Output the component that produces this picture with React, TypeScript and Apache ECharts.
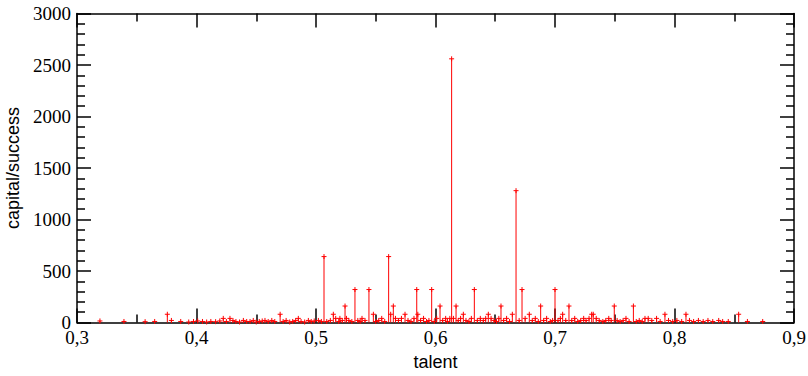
import React, { useEffect, useRef } from "react";
import * as echarts from "echarts";

// talent values (x) and capital/success values (y)
const talent: number[] = [
  0.3192, 0.3393, 0.357, 0.365, 0.3756, 0.379, 0.3868, 0.3935, 0.3975, 0.401, 0.405, 0.4085, 0.412, 0.416, 0.4195,
  0.4224, 0.425, 0.428, 0.4305, 0.433, 0.436, 0.4392, 0.442, 0.4448, 0.4475, 0.45, 0.4525, 0.455, 0.4573, 0.46,
  0.463, 0.4655, 0.47, 0.4725, 0.475, 0.478, 0.4805, 0.483, 0.4852, 0.4875, 0.4905, 0.4936, 0.496, 0.4985, 0.502, 0.5045,
  0.5067, 0.509, 0.512, 0.5145, 0.5165, 0.519, 0.52, 0.522, 0.5243, 0.5255, 0.5275, 0.53, 0.5326, 0.535, 0.537,
  0.5385, 0.541, 0.5443, 0.548, 0.55, 0.5525, 0.555, 0.5575, 0.5608, 0.5625, 0.5647, 0.5665, 0.569, 0.5715, 0.5745,
  0.577, 0.5795, 0.582, 0.5843, 0.5852, 0.5875, 0.59, 0.5925, 0.5945, 0.5968, 0.599,
  0.601, 0.6038, 0.606, 0.6085, 0.61, 0.612, 0.6135, 0.615, 0.6172, 0.619, 0.621, 0.6233, 0.6255, 0.628, 0.63,
  0.6325, 0.635, 0.6375, 0.64, 0.642, 0.6442, 0.6465, 0.649, 0.651, 0.653, 0.6548, 0.657, 0.6595, 0.662, 0.6643,
  0.6674, 0.67, 0.6724, 0.675, 0.6785, 0.681, 0.6835, 0.686, 0.688, 0.6905, 0.693, 0.696, 0.698, 0.7,
  0.7025, 0.7045, 0.7064, 0.709, 0.7117, 0.714, 0.7165, 0.719, 0.7215, 0.724, 0.726, 0.7285, 0.7307, 0.732, 0.7345,
  0.737, 0.74, 0.7425, 0.745, 0.747, 0.7496, 0.752, 0.7545, 0.757, 0.7594, 0.762, 0.7656, 0.768, 0.7705, 0.773,
  0.7753, 0.778, 0.781, 0.785, 0.788, 0.792, 0.795, 0.7985,
  0.802, 0.806, 0.8096, 0.8125, 0.816, 0.82, 0.824, 0.828, 0.832, 0.837, 0.8403, 0.845, 0.8537, 0.861, 0.8738,
];

const capital: number[] = [
  15, 10, 8, 10, 80, 20, 10, 5, 10, 15, 10, 5, 10, 8, 15,
  40, 10, 40, 20, 10, 5, 20, 10, 10, 20, 5, 10, 15, 20, 10,
  20, 10, 80, 10, 20, 5, 10, 20, 40, 10, 5, 20, 10, 15, 20, 10,
  640, 10, 20, 80, 40, 10, 40, 20, 160, 40, 20, 10, 320, 20, 10,
  40, 20, 320, 80, 10, 20, 40, 10, 640, 80, 160, 40, 20, 40, 80,
  20, 10, 40, 320, 80, 20, 40, 10, 20, 320, 10,
  40, 160, 20, 40, 10, 40, 2560, 40, 160, 20, 40, 80, 20, 10, 40,
  320, 20, 40, 20, 40, 80, 40, 20, 10, 40, 160, 20, 40, 10, 80,
  1280, 20, 320, 40, 80, 20, 40, 10, 160, 20, 40, 10, 20, 320,
  20, 40, 80, 20, 160, 20, 40, 10, 20, 40, 20, 40, 80, 80, 40,
  20, 10, 20, 40, 20, 160, 20, 10, 20, 40, 10, 160, 10, 20, 10,
  40, 40, 20, 40, 10, 80, 20, 10,
  20, 10, 80, 20, 10, 20, 10, 20, 10, 20, 10, 10, 80, 10, 10,
];

const xTicks = { min: 0.3, max: 0.9, interval: 0.1 };
const yTicks = { min: 0, max: 3000, interval: 500 };

const RED = "#ff0000";

export default function App() {
  const ref = useRef<HTMLDivElement>(null);
  useEffect(() => {
    if (!ref.current) return;
    const chart = echarts.init(ref.current, undefined, { renderer: "svg" });
    const data = talent.map((t, i) => [t, capital[i]]);
    const axisLine = { show: true, onZero: false, lineStyle: { color: "#000", width: 1.5 } };
    const tick = { show: true, inside: true, length: 14, lineStyle: { color: "#000", width: 1.5 } };
    const SERIF = "Times New Roman";
    const sans = { fontFamily: "Liberation Sans", fontSize: 18, color: "#000" };
    const xMinor = { show: true, splitNumber: 2, length: 8, lineStyle: { color: "#000", width: 1.5 } };
    const yMinor = { show: true, splitNumber: 5, length: 8, lineStyle: { color: "#000", width: 1.5 } };
    chart.setOption({
      animation: false,
      backgroundColor: "#fff",
      textStyle: { fontFamily: SERIF },
      grid: {
        left: 77,
        right: 14,
        top: 13.5,
        bottom: 53.5,
        containLabel: false,
        outerBoundsMode: "none",
      },
      xAxis: [
        {
          type: "value",
          position: "bottom",
          ...xTicks,
          name: "talent",
          nameLocation: "middle",
          nameGap: 30,
          nameTextStyle: sans,
          axisLine,
          axisTick: tick,
          minorTick: xMinor,
          splitLine: { show: false },
          axisLabel: {
            fontFamily: SERIF,
            fontSize: 19,
            color: "#000",
            margin: 9,
            lineHeight: 12,
            formatter: (v: number) => v.toFixed(1).replace(".", ","),
          },
        },
        {
          type: "value",
          position: "top",
          ...xTicks,
          axisLine,
          axisTick: tick,
          minorTick: xMinor,
          splitLine: { show: false },
          axisLabel: { show: false },
        },
      ],
      yAxis: [
        {
          type: "value",
          position: "left",
          ...yTicks,
          name: "capital/success",
          nameLocation: "middle",
          nameGap: 54,
          nameTextStyle: sans,
          axisLine,
          axisTick: tick,
          minorTick: yMinor,
          splitLine: { show: false },
          axisLabel: {
            fontFamily: SERIF,
            fontSize: 19,
            color: "#000",
            margin: 6,
            lineHeight: 12,
            formatter: (v: number) => String(v),
          },
        },
        {
          type: "value",
          position: "right",
          ...yTicks,
          axisLine,
          axisTick: tick,
          minorTick: yMinor,
          splitLine: { show: false },
          axisLabel: { show: false },
        },
      ],
      series: [
        {
          type: "custom",
          xAxisIndex: 0,
          yAxisIndex: 0,
          clip: false,
          data,
          encode: { x: 0, y: 1 },
          renderItem: (_params: any, api: any) => {
            const x = api.value(0);
            const y = api.value(1);
            const top = api.coord([x, y]);
            const base = api.coord([x, 0]);
            const s = 2.5;
            const style = { stroke: RED, lineWidth: 1, fill: null };
            return {
              type: "group",
              children: [
                { type: "line", shape: { x1: top[0], y1: base[1], x2: top[0], y2: top[1] }, style },
                { type: "line", shape: { x1: top[0] - s, y1: top[1], x2: top[0] + s, y2: top[1] }, style },
                { type: "line", shape: { x1: top[0], y1: top[1] - s, x2: top[0], y2: top[1] + s }, style },
              ],
            };
          },
        },
      ],
    });
    return () => chart.dispose();
  }, []);
  return <div ref={ref} style={{ position: "fixed", left: 0, top: 0, width: 808, height: 376 }} />;
}
